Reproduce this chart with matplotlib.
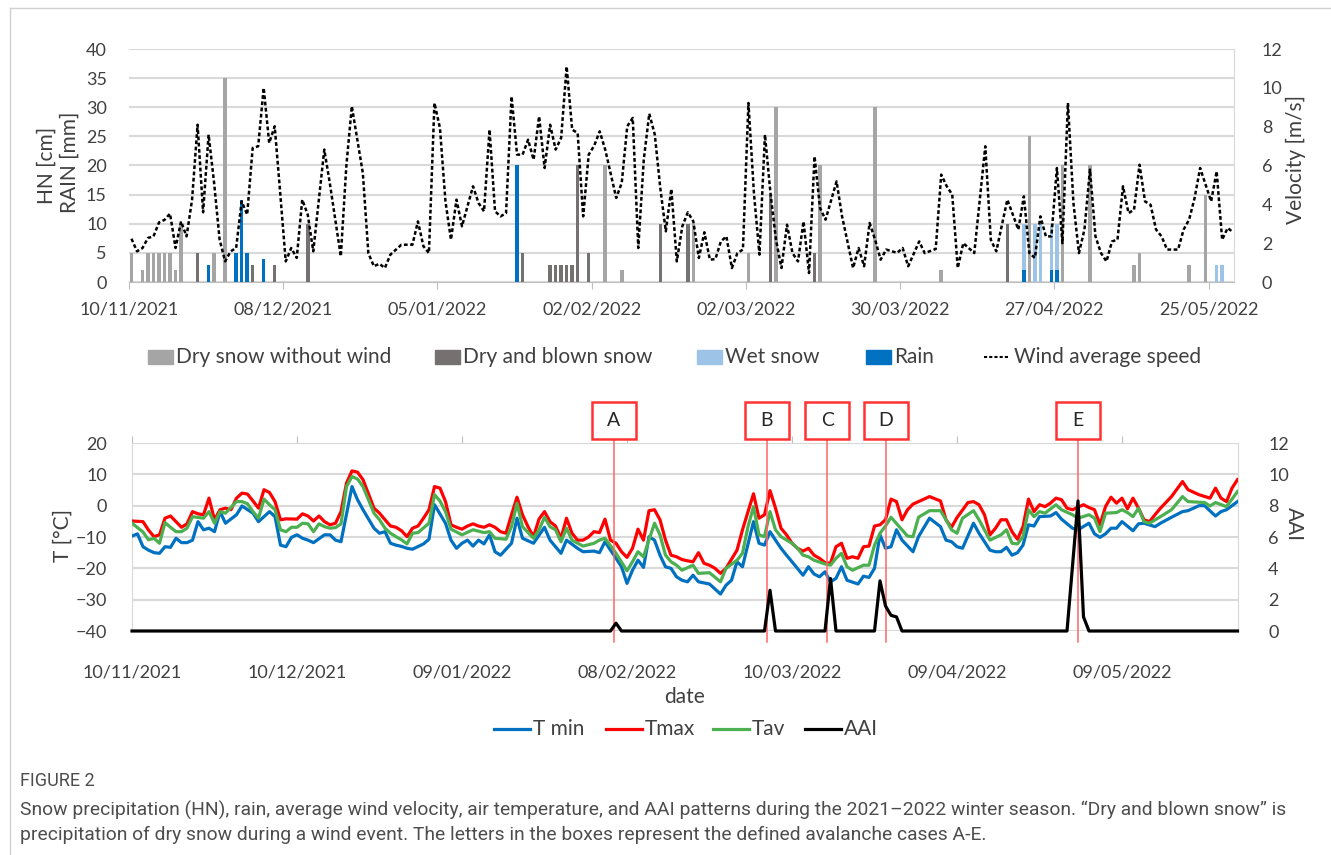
import matplotlib
matplotlib.use("Agg")
import matplotlib.pyplot as plt
import numpy as np
from matplotlib.patches import Rectangle
from matplotlib.lines import Line2D
from matplotlib.transforms import blended_transform_factory

plt.rcParams['font.family'] = ['Lato', 'DejaVu Sans']

# ---- data (days counted from 10/11/2021) ----
top_ticks = [0, 28, 56, 84, 112, 140, 168, 196]
top_labels = ['10/11/2021', '08/12/2021', '05/01/2022', '02/02/2022',
              '02/03/2022', '30/03/2022', '27/04/2022', '25/05/2022']
bot_ticks = [0, 30, 60, 90, 120, 150, 180]
bot_labels = ['10/11/2021', '10/12/2021', '09/01/2022', '08/02/2022',
              '10/03/2022', '09/04/2022', '09/05/2022']

# snow / rain bars: (day, value)
dry_snow = [(0, 5), (2, 2), (3, 5), (4, 5), (5, 5), (6, 5), (7, 5), (8, 2), (9, 10),
            (15, 5), (17, 35), (86, 20), (89, 2), (102, 10), (112, 5), (117, 30),
            (125, 20), (135, 30), (147, 2), (163, 25), (169, 20), (174, 20),
            (182, 3), (183, 5), (192, 3), (195, 15)]
blown_snow = [(12, 5), (22, 3), (26, 3), (32, 10), (71, 5), (76, 3), (77, 3), (78, 3),
              (79, 3), (80, 3), (81, 20), (83, 5), (96, 10), (101, 10), (116, 15),
              (124, 5), (159, 10)]
wet_snow = [(162, 10), (164, 10), (165, 10), (167, 10), (168, 10), (197, 3), (198, 3)]
rain = [(14, 3), (19, 5), (20, 14), (21, 5), (24, 4), (70, 20), (162, 2), (167, 2), (168, 2)]

wind = [(0, 2.23), (1, 1.58), (2, 1.75), (3, 2.27), (4, 2.35), (5, 3.07), (6, 3.2), (7, 3.52),
        (8, 1.75), (9, 3.12), (10, 2.35), (11, 4.24), (12, 8.1), (13, 3.59), (14, 7.59),
        (15, 5.1), (16, 2.18), (17, 1.06), (18, 1.58), (19, 1.75), (20, 4.15), (21, 3.47),
        (22, 6.9), (23, 6.99), (24, 10.0), (25, 7.16), (26, 8.02), (27, 4.58), (28, 1.06),
        (29, 1.75), (30, 1.24), (31, 4.24), (32, 3.47), (33, 1.58), (35, 6.82), (36, 5.1),
        (38, 1.32), (39, 5.96), (40, 9.05), (42, 5.61), (43, 1.49), (44, 0.81), (45, 0.94),
        (46, 0.72), (47, 1.41), (49, 1.92), (51, 1.92), (52, 3.12), (53, 1.84), (54, 1.49),
        (55, 9.22), (56, 7.93), (57, 4.15), (58, 2.18), (59, 4.24), (60, 2.87), (62, 4.93),
        (63, 4.07), (64, 3.64), (65, 7.85), (66, 3.64), (67, 3.38), (68, 3.55), (69, 9.56),
        (70, 6.56), (71, 6.56), (72, 7.33), (73, 6.3), (74, 8.53), (75, 5.87), (76, 8.1),
        (77, 6.82), (78, 7.42), (79, 11.1), (80, 7.85), (81, 7.67), (82, 3.38), (83, 6.56),
        (84, 7.02), (85, 7.76), (86, 6.82), (88, 4.33), (89, 5.1), (90, 8.02), (91, 8.45),
        (92, 1.75), (93, 6.3), (94, 8.67), (95, 7.59), (96, 4.84), (97, 2.61), (98, 4.79),
        (99, 1.06), (100, 2.87), (101, 3.59), (102, 3.12), (103, 1.24), (104, 2.56),
        (105, 1.15), (106, 1.18), (107, 2.09), (108, 2.35), (109, 0.72), (110, 1.49),
        (111, 1.67), (112, 9.22), (113, 4.58), (114, 1.41), (115, 7.59), (116, 4.58),
        (117, 2.18), (118, 0.72), (119, 2.95), (120, 1.49), (121, 1.06), (122, 3.12),
        (123, 0.46), (124, 6.47), (125, 3.81), (126, 3.21), (128, 5.18), (129, 3.38),
        (131, 0.72), (132, 1.75), (133, 0.81), (134, 3.04), (135, 2.18), (136, 1.15),
        (137, 1.67), (139, 1.5), (140, 1.75), (141, 0.81), (143, 2.09), (144, 1.49),
        (146, 1.7), (147, 5.53), (148, 4.93), (149, 4.5), (150, 0.72), (151, 2.0),
        (153, 1.49), (155, 6.99), (156, 2.18), (157, 1.58), (159, 4.24), (161, 2.7),
        (162, 4.41), (163, 1.49), (164, 1.24), (165, 3.38), (166, 2.35), (167, 2.35),
        (168, 5.87), (169, 2.0), (170, 9.22), (171, 4.07), (172, 1.49), (173, 2.7),
        (174, 5.79), (175, 2.35), (176, 1.49), (177, 1.06), (178, 2.09), (179, 2.18),
        (180, 4.93), (181, 3.55), (182, 3.72), (183, 6.04), (184, 4.15), (185, 3.98),
        (186, 2.7), (187, 2.35), (188, 1.67), (190, 1.67), (191, 2.7), (192, 3.21),
        (193, 4.33), (194, 5.87), (195, 5.01), (196, 4.15), (197, 5.7), (198, 2.18),
        (199, 2.78), (200, 2.56)]

t_min = [(0, -9.7), (1, -9.0), (2, -13.1), (3, -14.2), (4, -15.0), (5, -15.2), (6, -13.1),
         (7, -13.3), (8, -10.4), (9, -11.8), (10, -11.8), (11, -11.0), (12, -5.1), (13, -7.7),
         (14, -7.2), (15, -8.3), (16, -1.9), (17, -5.6), (19, -2.9), (20, -0.1), (22, -2.4),
         (23, -5.1), (24, -3.5), (25, -1.9), (26, -3.5), (27, -12.6), (28, -13.1), (29, -10.1),
         (30, -9.3), (31, -10.4), (32, -11.0), (33, -11.8), (35, -9.3), (36, -9.3), (37, -11.0),
         (38, -11.5), (40, 6.1), (41, 1.9), (42, -1.3), (44, -7.2), (45, -8.8), (46, -8.3),
         (47, -12.0), (48, -12.6), (49, -13.0), (50, -13.6), (51, -13.9), (53, -12.2),
         (54, -10.7), (55, 0.3), (57, -5.6), (58, -11.0), (59, -13.6), (60, -12.0), (61, -11.0),
         (62, -12.9), (63, -11.0), (64, -12.2), (65, -9.3), (66, -14.7), (67, -15.8),
         (69, -12.0), (70, -4.0), (71, -10.4), (73, -12.0), (75, -6.9), (76, -11.0), (78, -15.2),
         (79, -11.0), (81, -13.6), (82, -14.7), (84, -14.5), (85, -15.0), (86, -11.5),
         (87, -14.2), (88, -16.8), (89, -19.5), (90, -24.8), (91, -20.6), (92, -17.4),
         (93, -19.7), (94, -9.9), (95, -11.0), (96, -15.8), (97, -19.5), (98, -20.0),
         (99, -22.7), (100, -23.8), (101, -24.3), (102, -22.2), (103, -24.3), (105, -25.0),
         (107, -28.2), (108, -25.4), (109, -23.8), (110, -17.9), (111, -19.5), (113, -5.1),
         (114, -12.0), (115, -12.6), (116, -8.3), (117, -11.0), (118, -13.6), (119, -15.8),
         (120, -17.9), (122, -22.2), (123, -19.5), (124, -21.8), (125, -22.7), (126, -21.1),
         (127, -24.3), (128, -23.2), (129, -19.5), (130, -23.8), (132, -25.0), (133, -22.5),
         (134, -22.9), (135, -20.0), (136, -9.3), (137, -13.6), (138, -13.1), (139, -7.7),
         (140, -11.0), (142, -14.7), (143, -9.9), (145, -4.0), (147, -6.7), (148, -11.0),
         (149, -11.5), (150, -13.1), (151, -13.6), (153, -5.6), (154, -8.8), (156, -14.2),
         (157, -14.7), (158, -14.7), (159, -13.3), (160, -15.8), (161, -15.0), (162, -12.6),
         (163, -6.1), (164, -6.5), (165, -3.5), (167, -3.3), (168, -2.2), (169, -4.3),
         (171, -7.2), (172, -7.7), (174, -5.6), (175, -9.0), (176, -10.1), (177, -9.0),
         (178, -7.2), (179, -7.2), (180, -5.1), (182, -8.0), (183, -5.8), (184, -5.6),
         (186, -6.7), (187, -5.6), (189, -3.7), (191, -1.9), (192, -1.6), (194, 0.0),
         (195, 0.0), (197, -3.3), (198, -1.9), (199, -1.3), (201, 1.3)]

t_max = [(0, -4.9), (2, -5.1), (3, -7.8), (4, -9.9), (5, -9.3), (6, -4.0), (7, -3.3), (8, -5.1),
         (9, -6.9), (10, -5.8), (11, -1.9), (12, -2.6), (13, -2.9), (14, 2.4), (15, -4.5),
         (16, -1.3), (17, -0.8), (18, -1.3), (19, 2.4), (20, 4.0), (21, 3.7), (22, 1.5),
         (23, -0.8), (24, 5.1), (25, 4.2), (26, 1.3), (27, -4.5), (28, -4.2), (30, -4.3),
         (31, -2.6), (32, -3.3), (33, -4.9), (34, -3.3), (35, -5.1), (36, -6.1), (37, -5.6),
         (38, -1.9), (39, 7.2), (40, 11.1), (41, 10.7), (42, 8.3), (44, -0.8), (45, -2.4),
         (46, -4.5), (47, -6.5), (48, -6.9), (49, -8.0), (50, -9.9), (51, -7.2), (52, -6.5),
         (53, -4.0), (54, -1.3), (55, 6.1), (56, 5.6), (57, 1.3), (58, -6.1), (59, -6.9),
         (60, -7.5), (61, -6.5), (62, -5.8), (63, -6.5), (64, -6.9), (65, -6.1), (66, -6.9),
         (67, -8.3), (68, -8.8), (69, -2.9), (70, 2.7), (71, -2.9), (72, -6.7), (73, -9.9),
         (74, -4.3), (75, -1.9), (76, -5.1), (77, -6.5), (78, -10.4), (79, -4.0), (80, -8.8),
         (81, -11.0), (82, -11.0), (83, -10.0), (84, -8.3), (85, -8.6), (86, -4.3), (87, -11.0),
         (88, -12.0), (89, -14.7), (90, -16.5), (91, -13.6), (92, -7.5), (93, -11.0), (94, -1.6),
         (95, -1.3), (96, -4.5), (97, -11.0), (98, -15.8), (99, -16.3), (100, -17.2),
         (101, -17.6), (102, -17.9), (103, -15.0), (104, -18.4), (105, -19.0), (106, -20.0),
         (107, -21.6), (108, -20.0), (109, -17.1), (110, -14.2), (111, -7.7), (112, -1.9),
         (113, 3.8), (114, -4.0), (115, -2.9), (116, 4.8), (117, -0.8), (118, -7.2), (119, -9.3),
         (120, -12.0), (121, -13.6), (122, -14.5), (123, -13.6), (124, -15.8), (125, -16.8),
         (126, -18.2), (127, -18.4), (128, -13.1), (129, -12.0), (130, -16.8), (131, -16.3),
         (132, -16.8), (133, -13.1), (134, -12.9), (135, -6.5), (136, -6.1), (137, -4.5),
         (138, 2.1), (139, 1.3), (140, -4.5), (141, -1.3), (142, 0.5), (144, 2.1), (145, 2.9),
         (147, 1.5), (148, -4.5), (149, -6.9), (150, -3.8), (152, 1.0), (153, 1.3), (154, 0.3),
         (155, -2.9), (156, -9.3), (157, -7.2), (158, -4.5), (159, -4.5), (160, -8.3),
         (161, -10.7), (162, -6.7), (163, 2.1), (164, -1.9), (165, 0.3), (166, -0.3), (167, 0.8),
         (168, 2.4), (169, 1.9), (170, -0.8), (171, -1.3), (173, 0.3), (174, -0.6), (175, -1.3),
         (176, -6.1), (177, -0.3), (178, 2.7), (179, 0.8), (180, 2.4), (181, -1.0), (182, 2.4),
         (183, -0.8), (184, -4.5), (185, -5.1), (186, -2.9), (187, -0.8), (189, 2.9), (191, 7.7),
         (192, 5.1), (194, 3.5), (196, 2.4), (197, 5.6), (198, 2.4), (199, 1.3), (200, 5.6),
         (201, 8.3)]

t_av = [(0, -5.6), (2, -8.4), (3, -10.9), (4, -10.4), (5, -12.0), (6, -5.4), (7, -6.9), (8, -8.3),
        (9, -8.3), (10, -7.2), (11, -3.5), (13, -4.0), (14, -1.9), (15, -5.6), (16, -1.9),
        (17, -2.4), (19, 1.3), (20, 1.3), (21, 0.6), (22, -1.9), (23, -4.0), (24, 2.1), (25, 0.3),
        (26, -1.3), (27, -7.7), (28, -8.3), (29, -6.9), (30, -6.9), (31, -5.6), (32, -5.8),
        (33, -8.3), (34, -5.8), (35, -6.7), (36, -7.2), (37, -7.0), (38, -5.8), (39, 6.1),
        (40, 9.3), (41, 8.5), (42, 6.1), (44, -2.4), (45, -4.5), (46, -7.2), (47, -8.8),
        (48, -9.9), (49, -10.9), (50, -12.2), (51, -8.8), (52, -8.6), (54, -5.6), (55, 3.5),
        (56, 1.5), (57, -1.9), (58, -7.5), (60, -9.3), (61, -8.5), (62, -7.7), (64, -8.6),
        (65, -8.3), (66, -10.4), (68, -10.7), (69, -6.7), (70, 0.8), (71, -6.7), (73, -10.4),
        (74, -7.7), (75, -3.7), (76, -6.7), (77, -7.7), (78, -11.5), (79, -7.2), (80, -11.0),
        (82, -12.9), (84, -12.0), (85, -11.0), (86, -10.4), (88, -15.2), (90, -20.8),
        (91, -17.9), (92, -14.7), (93, -16.3), (95, -5.6), (96, -9.3), (97, -15.8), (98, -17.9),
        (99, -19.0), (100, -20.6), (102, -19.0), (103, -21.6), (105, -21.4), (107, -24.3),
        (108, -20.0), (110, -17.4), (111, -15.2), (112, -6.7), (113, -0.3), (114, -9.3),
        (115, -9.9), (116, -1.9), (117, -7.7), (118, -9.9), (120, -12.0), (121, -13.6),
        (122, -15.8), (123, -16.3), (124, -17.4), (126, -18.6), (127, -19.0), (128, -16.8),
        (129, -15.2), (130, -19.5), (131, -20.6), (133, -19.0), (134, -19.0), (135, -12.6),
        (136, -8.8), (137, -6.5), (138, -3.7), (140, -7.7), (141, -9.7), (142, -9.9),
        (143, -3.7), (145, -1.6), (147, -1.6), (148, -4.5), (149, -7.7), (150, -8.8),
        (151, -4.0), (153, -1.6), (154, -4.5), (156, -11.0), (158, -9.3), (159, -7.7),
        (160, -12.0), (161, -12.2), (162, -9.9), (163, -1.3), (164, -3.5), (165, -1.9),
        (166, -2.4), (168, 0.3), (169, -1.3), (171, -2.9), (172, -4.0), (174, -2.9), (175, -4.0),
        (176, -8.3), (177, -2.4), (179, -2.2), (180, -1.3), (181, -2.2), (182, -3.5), (183, -0.8),
        (184, -5.1), (185, -5.6), (187, -3.5), (189, -1.3), (191, 2.9), (192, 1.3), (195, 1.0),
        (196, -0.1), (197, 1.0), (199, -0.3), (201, 4.5)]

aai = [(0, 0), (87, 0), (88, 0.5), (89, 0), (115, 0), (116, 2.6), (117, 0), (126, 0),
       (127, 3.35), (128, 0), (135, 0), (136, 3.2), (137, 1.6), (138, 1.0), (139, 0.9),
       (140, 0), (170, 0), (172, 8.3), (173, 0.9), (174, 0), (201, 0)]

events = ['A', 'B', 'C', 'D', 'E']
event_day = [87.6, 115.4, 126.4, 137.0, 172.0]

W, H = 1331, 855
fig = plt.figure(figsize=(W / 100, H / 100), dpi=100)
grid_c = '#d9d9d9'
txt_c = '#404040'
title_fs = 15

def xy(pts):
    a = np.array(pts, dtype=float)
    return a[:, 0], a[:, 1]

# ---------------- top panel ----------------
ax1 = fig.add_axes([129 / W, 1 - 282 / H, 1105 / W, 233 / H])
off = 0.45
for pts, col in [(dry_snow, '#a5a5a5'), (blown_snow, '#767171'),
                 (wet_snow, '#9dc3e6'), (rain, '#0070c0')]:
    d, v = xy(pts)
    ax1.bar(d + off, v, width=0.65, color=col, zorder=3)
ax1.set_xlim(0, 200.6)
ax1.set_ylim(0, 40)
ax1.set_yticks(range(0, 41, 5))
ax1.set_xticks(top_ticks)
ax1.set_xticklabels(top_labels)
ax1.yaxis.grid(True, color=grid_c, lw=1.5)
ax1.set_axisbelow(True)
for s in ['top', 'left']:
    ax1.spines[s].set_visible(False)
ax1.spines['right'].set_color(grid_c)
ax1.spines['bottom'].set_color('#bfbfbf')
ax1.tick_params(axis='x', length=5, color='#bfbfbf', labelsize=13, labelcolor=txt_c, pad=9)
ax1.tick_params(axis='y', length=0, labelsize=13, labelcolor=txt_c, pad=16)

ax2 = ax1.twinx()
d, v = xy(wind)
ax2.plot(d + off, v, color='black', lw=1.8, ls=(0, (1.5, 1.0)), zorder=4)
ax2.set_ylim(0, 12)
ax2.set_yticks(range(0, 13, 2))
for s in ax2.spines.values():
    s.set_visible(False)
ax2.tick_params(axis='y', length=0, labelsize=13, labelcolor=txt_c, pad=20)

fig.text(47 / W, 1 - 165 / H, 'HN [cm]', rotation=90, ha='center', va='center', fontsize=title_fs, color=txt_c)
fig.text(70 / W, 1 - 162 / H, 'RAIN [mm]', rotation=90, ha='center', va='center', fontsize=title_fs, color=txt_c)
fig.text(1296 / W, 1 - 160 / H, 'Velocity [m/s]', rotation=90, ha='center', va='center', fontsize=title_fs, color=txt_c)

# top legend (drawn by hand to follow the original spacing)
leg_y = 357
for x0, col, label in [(148, '#a5a5a5', 'Dry snow without wind'), (435, '#767171', 'Dry and blown snow'),
                       (697, '#9dc3e6', 'Wet snow'), (866, '#0070c0', 'Rain')]:
    fig.add_artist(Rectangle((x0 / W, 1 - (leg_y + 7) / H), 25 / W, 14 / H,
                             transform=fig.transFigure, color=col))
    fig.text((x0 + 28) / W, 1 - leg_y / H, label, ha='left', va='center', fontsize=title_fs, color=txt_c)
fig.add_artist(Line2D([984 / W, 1010 / W], [1 - leg_y / H] * 2, transform=fig.transFigure,
                      color='black', lw=1.5, ls=(0, (1.5, 1.0))))
fig.text(1014 / W, 1 - leg_y / H, 'Wind average speed', ha='left', va='center', fontsize=title_fs, color=txt_c)

# ---------------- bottom panel ----------------
ax3 = fig.add_axes([132 / W, 1 - 631 / H, 1105.5 / W, 188 / H])
for pts, col in [(t_min, '#0070c0'), (t_max, '#ff0000'), (t_av, '#4caf50')]:
    d, v = xy(pts)
    ax3.plot(d, v, color=col, lw=2.3, zorder=3)
ax3.set_xlim(0, 201)
ax3.set_ylim(-40, 20)
ax3.set_yticks(range(-40, 21, 10))
ax3.set_xticks(bot_ticks)
ax3.set_xticklabels(bot_labels)
ax3.yaxis.grid(True, color=grid_c, lw=1.5)
ax3.set_axisbelow(True)
ax3.spines['top'].set_color(grid_c)
ax3.spines['left'].set_color(grid_c)
ax3.spines['right'].set_color(grid_c)
ax3.spines['bottom'].set_visible(False)
ax3.tick_params(axis='x', top=True, bottom=False, labeltop=False, labelbottom=True,
                direction='out', length=5, color='#bfbfbf', labelsize=13, labelcolor=txt_c, pad=19)
ax3.tick_params(axis='y', length=0, labelsize=13, labelcolor=txt_c, pad=18)
ax3.set_xlabel('date', fontsize=title_fs, color=txt_c, labelpad=5)

ax4 = ax3.twinx()
d, v = xy(aai)
ax4.plot(d, v, color='black', lw=2.3, zorder=4, clip_on=False)
ax4.set_ylim(0, 12)
ax4.set_yticks(range(0, 13, 2))
for s in ax4.spines.values():
    s.set_visible(False)
ax4.tick_params(axis='y', length=0, labelsize=13, labelcolor=txt_c, pad=22)

fig.text(63 / W, 1 - 536 / H, 'T [°C]', rotation=90, ha='center', va='center', fontsize=title_fs, color=txt_c)
fig.text(1294 / W, 1 - 524 / H, 'AAI', rotation=270, ha='center', va='center', fontsize=title_fs, color=txt_c)

# avalanche case markers
tr = blended_transform_factory(ax3.transData, ax3.transAxes)
for lab, d in zip(events, event_day):
    ax3.add_artist(Line2D([d, d], [-0.06, 1.02], transform=tr, color='#ff6666', lw=1.1,
                          clip_on=False, zorder=5))
    ax3.add_patch(Rectangle((d - 4.0, 1.02), 8.0, 0.2, transform=tr, facecolor='white',
                            edgecolor='#ff3333', lw=1.8, clip_on=False, zorder=6))
    ax3.text(d, 1.12, lab, transform=tr, ha='center', va='center', fontsize=14,
             color='#262626', zorder=7, clip_on=False)

# bottom legend
leg_y2 = 729
for x0, col, label in [(494, '#0070c0', 'T min'), (606, '#ff0000', 'Tmax'),
                       (713, '#4caf50', 'Tav'), (805, 'black', 'AAI')]:
    fig.add_artist(Line2D([x0 / W, (x0 + 36) / W], [1 - leg_y2 / H] * 2, transform=fig.transFigure,
                          color=col, lw=2.3))
    fig.text((x0 + 39) / W, 1 - leg_y2 / H, label, ha='left', va='center', fontsize=title_fs, color=txt_c)

# frame and caption
fig.add_artist(Line2D([10 / W, 10 / W], [0, 1 - 8 / H], transform=fig.transFigure, color='#d0d0d0', lw=1))
fig.add_artist(Line2D([10 / W, 1], [1 - 8 / H, 1 - 8 / H], transform=fig.transFigure, color='#d0d0d0', lw=1))
cap_font = ['Roboto', 'DejaVu Sans']
fig.text(20 / W, 1 - 781 / H, 'FIGURE 2', ha='left', va='center', fontsize=13,
         color='#4d4d4d', family=cap_font)
fig.text(20 / W, 1 - 810 / H,
         'Snow precipitation (HN), rain, average wind velocity, air temperature, and AAI patterns during '
         'the 2021\u20132022 winter season. \u201cDry and blown snow\u201d is',
         ha='left', va='center', fontsize=13.9, color='#4d4d4d', family=cap_font)
fig.text(20 / W, 1 - 835 / H,
         'precipitation of dry snow during a wind event. The letters in the boxes represent the defined '
         'avalanche cases A-E.',
         ha='left', va='center', fontsize=13.9, color='#4d4d4d', family=cap_font)

fig.savefig('out.png', dpi=100)
